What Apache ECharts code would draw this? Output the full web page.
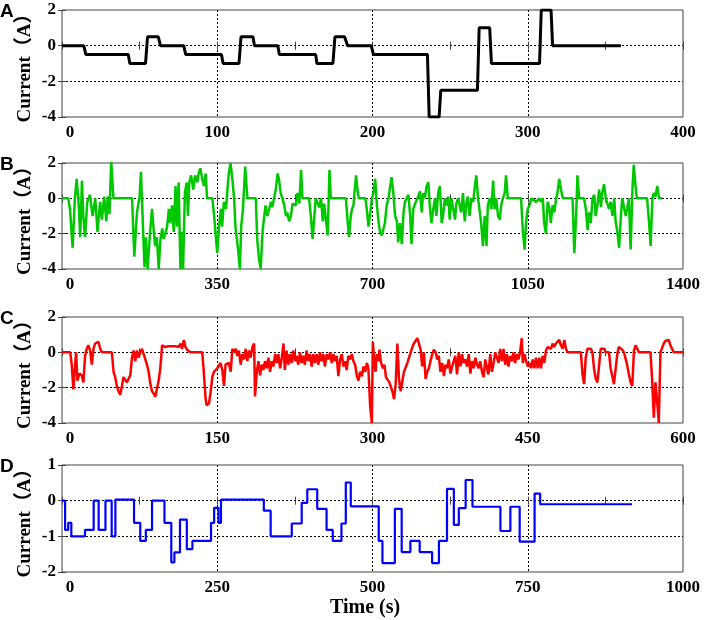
<!DOCTYPE html>
<html>
<head>
<meta charset="utf-8">
<script src="https://cdn.jsdelivr.net/npm/echarts@6/dist/echarts.min.js"></script>
<style>
html, body { margin: 0; padding: 0; background: #fff; }
#main { width: 706px; height: 620px; }
</style>
</head>
<body>
<div id="main"></div>
<script>
// panel letters and axis ranges
var panelNames = ['A', 'B', 'C', 'D'];
var xMax = [400, 1400, 600, 1000];
var xStep = [100, 350, 150, 250];
var yMin = [-4, -4, -4, -2];
var yMax = [2, 2, 2, 1];
var yStep = [2, 2, 2, 1];
var lineColors = ['#000000', '#00c800', '#ff0000', '#0000ff'];

// A: step-like profile, [time, current]
var currentA = [[0,0],[14,0],[15.4,-0.5],[42.7,-0.5],[43.7,-1],[53.8,-1],[55.1,0.5],[62,0.5],[63.4,0],[78.4,0],[79.7,-0.5],
  [102.7,-0.5],[103.8,-1],[114,-1],[115.3,0.5],[123,0.5],[124,0],[139,0],[140,-0.5],[163.4,-0.5],[164.2,-1],[174.5,-1],
  [175.8,0.5],[182,0.5],[184,0],[199.2,0],[200.6,-0.5],[235.4,-0.5],[236.5,-4],[242.9,-4],[244,-2.5],[267.6,-2.5],
  [268.7,1],[275.5,1],[276.6,-1],[307.6,-1],[308.7,2],[315,2],[316,0],[360,0]];

// B
var currentB = [[0,0],[14,0],[18,-0.6],[24,-2.8],[29,0],[33,1.1],[38,-0.5],[41,-2.2],[45,1],[48,-1],[52,-2.2],[57,-0.2],
  [63,0.2],[69,-1],[75,0],[80,-1.9],[86,-0.2],[90,-1.2],[95,0.1],[100,-1.3],[103,0.1],[107,-0.9],[111,2.1],[116,0],[158,0],
  [163,-3.3],[169,-0.8],[175,0.1],[178,1.5],[183,-1.9],[186,-3.9],[189,-2.2],[193,-4],[198,-2.1],[203,-0.6],[207,-1.9],
  [210,-2.7],[214,-2.2],[218,-4],[222,-2.3],[226,-1.7],[229,-2.3],[233,-2],[237,-1.6],[241,-0.6],[244,-1.4],[248,-0.4],
  [252,-1.9],[256,0.7],[259,-1.6],[263,0.9],[267,-4],[271,-1.9],[273,-4],[277,0.3],[281,0.9],[284,-1],[287,0.9],[291,1.3],
  [296,0.5],[300,1.3],[305,0.9],[308,1.4],[312,1.7],[316,1.1],[320,0.7],[324,1.4],[327,0],[339,0],[343,-1],[346,-1.9],
  [350,-3.1],[354,-1.6],[358,-0.6],[361,-1.6],[365,-0.2],[370,-0.6],[373,0.5],[376,1.4],[380,2],[384,1.1],[388,0],
  [391,-1.6],[397,-2.9],[401,-4],[404,-1.6],[408,-0.6],[413,1.8],[418,0],[437,0],[440,-2.3],[444,-3.4],[448,-4],[452,-1.9],
  [456,-1],[459,-0.4],[463,-1],[467,-0.6],[471,-0.2],[474,-0.5],[478,0],[482,0.5],[486,1.4],[489,1.1],[493,0.3],[497,0],
  [501,-0.4],[505,-1],[508,-0.8],[512,-1.3],[516,-1],[520,-0.3],[523,-0.2],[527,-0.4],[531,0.3],[535,-0.3],[539,1.6],
  [542,0],[557,0],[561,-1],[565,-2.3],[569,-1],[572,0],[576,0],[580,-0.5],[584,0],[588,-1.3],[591,-0.3],[595,-0.2],
  [599,-2.1],[603,1.6],[606,0],[640,0],[644,-1.3],[647,-2.2],[651,-1],[654,-0.6],[657,-0.4],[660,0.5],[663,1.3],[666,0.5],
  [669,0],[684,0],[687,-0.6],[691,-1.6],[695,-1.6],[699,0],[702,0.3],[706,1.1],[710,-0.4],[714,-1.4],[717,-1.9],[721,-2.1],
  [725,-2.2],[728,-1.4],[732,-0.4],[736,0],[740,0.7],[743,1.2],[747,0.3],[751,-1],[755,-1.3],[758,-2.5],[762,-1.4],
  [766,-2.6],[770,-0.8],[773,-0.2],[777,0],[781,0.2],[785,-1],[788,-2.6],[792,-0.6],[796,-0.3],[800,-0.2],[803,0.1],
  [807,0.4],[811,-0.8],[814,0.3],[818,0],[822,0.7],[826,0.9],[829,-0.4],[833,-1.4],[837,-0.6],[841,0],[844,-1],[848,0.3],
  [852,0.7],[856,-1.4],[859,-1],[863,0],[867,-0.4],[871,0.1],[874,-1.2],[878,0],[882,0.1],[886,-1.2],[889,-0.3],[893,0],
  [897,0],[900,-0.8],[904,0.3],[908,-1.3],[912,-0.2],[915,0.1],[919,-1],[923,0],[927,-0.2],[930,0.5],[934,1.3],[938,0],
  [942,-0.8],[945,-1.4],[949,-2.7],[953,-1],[957,-2.7],[960,-0.4],[964,0],[968,-0.6],[972,1],[975,-0.6],[979,0],[983,-1],
  [987,-1.2],[990,-0.4],[994,0],[998,0.3],[1001,1.3],[1005,0],[1035,0],[1039,-1.9],[1043,-2.9],[1046,-1.4],[1050,-0.6],
  [1054,-0.4],[1058,0],[1069,-0.2],[1076,0],[1080,-0.2],[1084,0],[1087,-1.4],[1091,-2],[1095,-0.2],[1099,-0.6],[1102,-1.4],
  [1106,-0.4],[1110,-0.8],[1114,0],[1117,0.3],[1121,1.1],[1125,0.5],[1129,0],[1151,0],[1155,-3.1],[1159,-1],[1162,1.3],
  [1166,0],[1177,0],[1181,-0.6],[1185,-1.8],[1188,-0.8],[1192,-1.4],[1196,0],[1200,0.2],[1203,-1],[1207,-0.4],[1211,0.5],
  [1215,-0.5],[1218,0.3],[1222,0.8],[1226,0],[1230,0],[1233,-0.6],[1237,-0.2],[1241,-1],[1245,0],[1248,-1.3],[1252,-1.9],
  [1256,-2.8],[1260,-1],[1263,0],[1267,0.1],[1271,-1],[1274,-0.6],[1278,0],[1282,-2.9],[1286,0.5],[1289,1.9],[1293,0.7],
  [1296,0],[1319,0],[1323,-1.2],[1327,-2.7],[1331,0],[1334,0.3],[1338,0.1],[1342,0.7],[1346,0],[1353,0]];

// C
var currentC = [[0,0],[8,0],[9.4,-0.7],[11,-2.1],[12.6,-2.2],[13.6,0],[14.9,-1.6],[16.8,-1.2],[19,-1.3],[20.7,-1.7],
  [22.3,-0.2],[23.9,0.2],[25.5,0.4],[27.2,0.1],[28.8,-0.7],[30.4,0.2],[32,0.5],[33.6,0.6],[35.2,0.6],[36.9,0.2],[38.5,0],
  [48.2,0],[49.8,-1.1],[51.4,-1.4],[53,-1.9],[54.6,-2.2],[56.3,-2.4],[57.9,-2.5],[59.5,-1.4],[61.1,-1.3],[62.7,-1.7],
  [64.3,-1.8],[66,-1.3],[67.6,-0.3],[69.2,0.1],[70.8,-0.5],[72.4,0.1],[74,-0.3],[75.7,0],[77.3,0.2],[78.9,-0.1],[80.5,-0.4],
  [82.1,-0.7],[83.7,-1.1],[85.4,-1.8],[87,-2.2],[88.6,-2.3],[90.2,-2.5],[91.8,-2.6],[93.4,-1.6],[95,-0.9],[96.7,0.4],
  [98.3,0.5],[99.9,0.3],[101.5,0.3],[103.1,0.35],[104.8,0.3],[106.4,0.35],[108,0.3],[109.6,0.35],[111.2,0.4],[112.8,0.3],
  [114.5,0.5],[116,0.2],[117.7,0.7],[119.3,0.3],[120.9,0.15],[124,0],[135.5,0],[137,-1.1],[138.7,-2.6],[139.7,-3],
  [142,-2.9],[143.7,-2.2],[145.2,-1.4],[146.8,-1.1],[148.4,-1],[150,-0.9],[151.6,-0.8],[153.2,-0.6],[154.9,-1],[156.5,-1.9],
  [158,-0.7],[159.7,-0.8],[161.3,-0.6],[163,-1.1],[164.6,0.2],[166.2,0],[167.8,0.2],[169.4,-0.2],[171,0.1],[172.6,-0.7],
  [174.3,-0.1],[175.9,-0.4],[177.5,0.2],[179,-0.5],[180.7,0.1],[182.3,-0.3],[184,0.3],[185.6,0.5],[186.5,-2.5],[188.2,-1.1],
  [189.8,-0.5],[191.4,-1.3],[193,-0.7],[194.6,-1],[196.2,-0.5],[197.9,-0.9],[199.5,-0.3],[201,-1.1],[202.7,-0.5],
  [204.3,-0.8],[206,-0.1],[207.6,-0.6],[209,-0.1],[210.8,-0.9],[212.4,-0.3],[214,0.5],[215.3,-1],[217,0.1],[218.6,-0.7],
  [220.2,-0.1],[221.8,-0.6],[223.4,0.1],[225,-0.5],[226.6,-0.2],[228.3,-0.7],[229.9,0],[231.5,-0.6],[233,-0.2],[234.7,-0.7],
  [236.3,0.1],[238,-0.5],[239.6,-0.1],[241.2,-0.8],[242.8,-0.1],[244.4,-0.6],[246,-0.1],[247.7,-0.7],[249.3,0],[250.9,-0.5],
  [252.5,-0.1],[254,-0.8],[255.7,-0.1],[257.4,-0.4],[259,0],[260.6,-0.6],[262.2,-0.1],[263.8,-0.5],[265.4,-0.2],
  [267,-1.35],[268.7,-0.4],[270.3,-0.1],[271.9,-0.8],[273.5,-0.5],[275,-1],[276.7,-0.2],[278.4,-0.4],[280,-0.1],
  [281.6,-0.5],[283.2,-0.7],[284.8,-1.3],[286.4,-1.6],[288,-1.1],[289.7,-1.35],[291.3,-0.8],[293,-1.1],[294.6,-0.6],
  [296,-0.9],[297.8,-3.1],[299.4,-4],[300.3,0.6],[301.6,-0.5],[303,-1.1],[304,-0.1],[305.8,-0.5],[306.7,0.15],[308.3,-0.6],
  [310,-0.9],[311.5,-0.7],[313,-1.4],[314.7,-1.35],[316.3,-1.7],[318,-2],[319.6,-2.3],[320.8,-2.65],[322.4,-1.8],[324,0.5],
  [325.6,-1.5],[327.2,-2.2],[328.8,-2.1],[330.4,-1.1],[332,-1.1],[333.7,-0.6],[335.3,-0.3],[336.9,0],[338.5,0.3],[340,0.5],
  [341.7,0.6],[343.3,0.8],[345,0.9],[346.5,0.15],[348,-0.8],[349.7,0],[351.3,-1.5],[352.9,-1.1],[354.5,-0.9],[356,-0.5],
  [357.7,-0.1],[359.3,0.15],[361,0],[362.5,-0.4],[364,-0.2],[365.7,-1.1],[367.3,-0.6],[369,-1.35],[370.5,-0.7],[372,-0.9],
  [373.7,-0.4],[375.3,-1.2],[377,-0.8],[378.5,-0.9],[380,-0.2],[381.7,-1.25],[383.3,0],[385,-0.8],[386.5,-0.1],[388,-0.6],
  [389.7,-0.4],[391.3,-0.8],[393,-0.1],[394.6,-1.2],[396,-0.5],[397.8,-0.9],[399.4,-0.3],[401,-0.7],[402.6,-0.9],[404,-0.5],
  [405.8,-1.1],[407.4,-1.4],[409,-0.4],[410.6,-0.9],[412,-1.25],[413.8,-0.1],[415.4,-1.1],[417,-0.6],[418.6,0],[420.2,0.1],
  [421.8,-0.6],[423.4,0.2],[425,-0.5],[426.6,0.2],[428.2,-0.7],[429.8,-0.1],[431.4,-0.8],[433,-0.2],[434.6,-0.5],[436.2,0],
  [437.8,-0.6],[439.4,-0.1],[441,-0.4],[442.6,0],[444.2,0.8],[445.2,-0.6],[446.8,-0.1],[448.4,-0.5],[450,-0.8],[451.6,-0.6],
  [453.2,-0.9],[454.8,-0.4],[456.4,-0.9],[458,-0.3],[459.6,-0.9],[461.2,-0.3],[462.8,-0.9],[464.4,-0.2],[466,-0.6],
  [467.6,0.1],[469.2,0.3],[470.8,0.4],[472.4,0.2],[474,0.5],[475.6,0.3],[477.2,0.5],[478.8,0.4],[480.4,0.7],[482,0.4],
  [483.7,0.2],[485.3,0.7],[486.9,0.2],[488.5,0],[501.3,0],[502.9,-1.25],[504.5,-1.8],[506,-0.3],[507.7,0.2],[509.3,0.3],
  [511,0.2],[512.5,0],[514,-0.9],[515.7,-1.5],[517.3,-1.7],[519,-0.7],[520.5,0.2],[522,0.3],[523.7,0.2],[525.3,0],
  [528.5,0],[530,-0.9],[531.7,-1.35],[533.3,-1.8],[535,-0.9],[536.5,-0.1],[538,0.3],[539.7,0.3],[541.3,0.15],[543,0],
  [544.5,-0.1],[546,-0.7],[547.8,-1.25],[549.4,-1.7],[551,-1.9],[552.6,0.1],[554.2,0.4],[555.8,0.2],[557.4,0],[568.6,0],
  [570.2,-1.6],[571.8,-3.7],[573.4,-1.7],[575,-2.75],[576.6,-4],[578.2,0],[579.8,0.1],[581.4,0.5],[583,0.65],[584.6,0.6],
  [586.2,0.7],[587.8,0.4],[589.4,0.2],[591,0],[600,0]];

// D: piecewise constant, each point = start of a level
var currentD = [[0,0],[5,-0.82],[10,-0.62],[15,-1],[37,-0.82],[51,0],[59,-0.82],[70,0],[80,-1],[86,0.03],[116,-0.62],
  [126,-1.13],[135,-0.82],[145,0],[165,-0.62],[176,-1.73],[181,-1.45],[190,-0.53],[201,-1.36],[210,-1.13],[240,-0.62],
  [245,-0.2],[252,-0.62],[256,0.03],[325,-0.28],[336,-1],[370,-0.64],[386,-0.06],[395,0.32],[411,-0.23],[426,-0.82],
  [436,-1.13],[450,-0.64],[457,0.51],[465,-0.16],[510,-1.13],[516,-1.75],[536,-0.23],[547,-1.44],[561,-1.13],[576,-1.44],
  [596,-1.75],[607,-1.13],[620,0.33],[631,-0.68],[639,-0.21],[650,0.58],[661,-0.17],[706,-0.85],[722,-0.17],[737,-1.15],
  [761,0.2],[770,-0.1],[918,-0.1]];

var traces = [currentA, currentB, currentC, currentD];
var lineWidths = [3, 2.5, 2.5, 2.2];

var gridTops = [10, 163, 317, 465];
var gridHeights = [107, 106, 106, 107];

var serif = '"Times New Roman", "Liberation Serif", "Noto Sans CJK SC", serif';
var boxColor = '#444';

var chart = echarts.init(document.getElementById('main'), null, { renderer: 'canvas' });

var grids = [], xAxes = [], yAxes = [], series = [], graphics = [];

for (var i = 0; i < 4; i++) {
    grids.push({
        left: 62, right: 23, top: gridTops[i], height: gridHeights[i],
        show: true, borderColor: boxColor, borderWidth: 1, backgroundColor: 'transparent'
    });
    // bottom x axis with labels
    xAxes.push({
        gridIndex: i, type: 'value', position: 'bottom', min: 0, max: xMax[i], interval: xStep[i],
        axisLine: { show: false },
        axisTick: { show: true, inside: true, length: 4, lineStyle: { color: boxColor } },
        minorTick: { show: true, splitNumber: 2, length: 4, lineStyle: { color: boxColor } },
        splitLine: { show: true, showMinLine: false, showMaxLine: false,
            lineStyle: { color: '#000', type: [2, 2], width: 1 } },
        axisLabel: {
            margin: 7, color: '#000', fontFamily: serif, fontWeight: 'bold', fontSize: 17,
            formatter: function (v) { return v === 0 ? '{z|0}' : String(v); },
            rich: { z: { padding: [0, 0, 0, 16], color: '#000', fontFamily: serif, fontWeight: 'bold', fontSize: 17 } }
        }
    });
    // top x axis, ticks only
    xAxes.push({
        gridIndex: i, type: 'value', position: 'top', min: 0, max: xMax[i], interval: xStep[i],
        axisLine: { show: false },
        axisTick: { show: true, inside: true, length: 4, lineStyle: { color: boxColor } },
        minorTick: { show: true, splitNumber: 2, length: 4, lineStyle: { color: boxColor } },
        splitLine: { show: false },
        axisLabel: { show: false }
    });
    yAxes.push({
        gridIndex: i, type: 'value', position: 'left', min: yMin[i], max: yMax[i], interval: yStep[i],
        name: 'Current（A）', nameLocation: 'middle', nameGap: 27, nameRotate: 90, nameMoveOverlap: false,
        nameTextStyle: { color: '#000', fontFamily: serif, fontWeight: 'bold', fontSize: 19 },
        axisLine: { show: false },
        axisTick: { show: true, inside: true, length: 4, lineStyle: { color: boxColor } },
        splitLine: { show: true, showMinLine: false, showMaxLine: false,
            lineStyle: { color: '#000', type: [2, 2], width: 1 } },
        axisLabel: { margin: 6, color: '#000', fontFamily: serif, fontWeight: 'bold', fontSize: 17 }
    });
    yAxes.push({
        gridIndex: i, type: 'value', position: 'right', min: yMin[i], max: yMax[i], interval: yStep[i],
        axisLine: { show: false },
        axisTick: { show: true, inside: true, length: 4, lineStyle: { color: boxColor } },
        splitLine: { show: false },
        axisLabel: { show: false }
    });
    series.push({
        type: 'line', xAxisIndex: i * 2, yAxisIndex: i * 2,
        data: traces[i], showSymbol: false, symbol: 'none', animation: false,
        step: i === 3 ? 'end' : false,
        lineStyle: { color: lineColors[i], width: lineWidths[i] }
    });
    graphics.push({
        type: 'text', left: 0, top: gridTops[i] - 8,
        style: { text: panelNames[i], font: 'bold 19px "Liberation Sans", Arial, sans-serif', fill: '#000' }
    });
}

graphics.push({
    type: 'text', left: 330, top: 598,
    style: { text: 'Time (s)', font: 'bold 20px ' + serif, fill: '#000' }
});

chart.setOption({
    backgroundColor: '#fff',
    animation: false,
    grid: grids,
    xAxis: xAxes,
    yAxis: yAxes,
    series: series,
    graphic: graphics
});
</script>
</body>
</html>
